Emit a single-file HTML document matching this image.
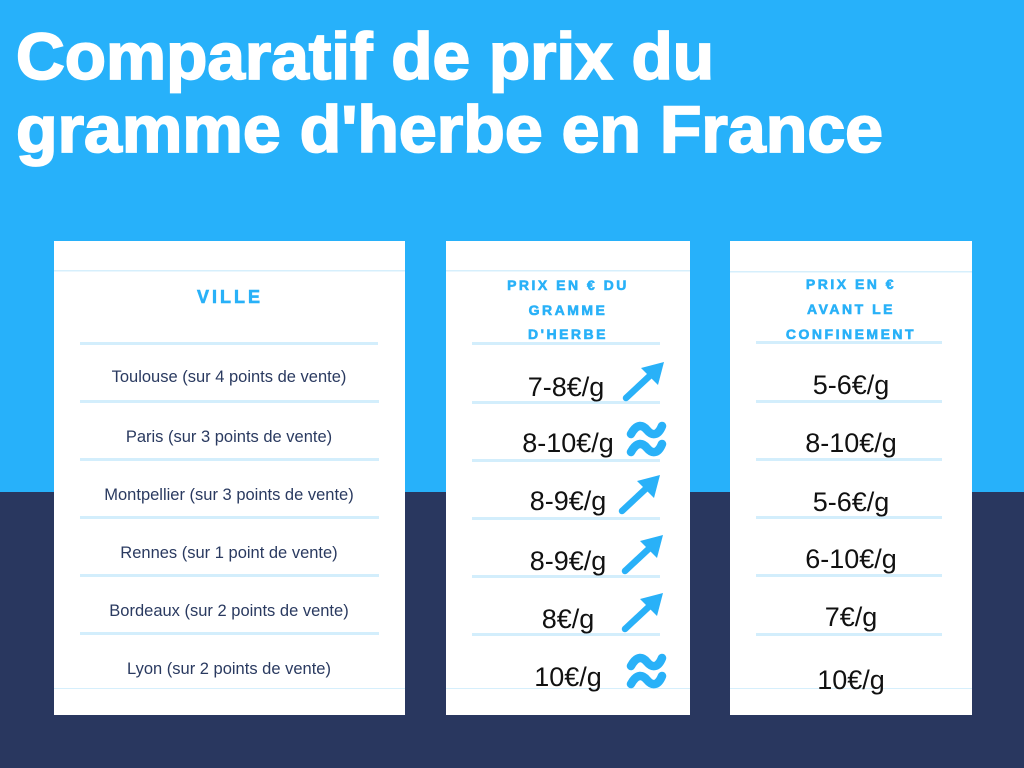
<!DOCTYPE html>
<html><head><meta charset="utf-8"><style>
html,body{margin:0;padding:0;width:1024px;height:768px;overflow:hidden}
svg{display:block}
</style></head><body>
<svg width="1024" height="768" xmlns="http://www.w3.org/2000/svg">
<defs>
<g id="arr"><line x1="0" y1="0" x2="30" y2="-28" stroke="#29b1f8" stroke-width="6.5" stroke-linecap="round"/><polygon points="38,-36 15,-30 32,-13" fill="#29b1f8"/></g>
<g id="apx"><path d="M3,12 C9,1 15,3 19,8 C24,14 30,14 34,4" fill="none" stroke="#29b1f8" stroke-width="8.5" stroke-linecap="round"/><path d="M3,30 C9,19 15,21 19,26 C24,32 30,32 34,22" fill="none" stroke="#29b1f8" stroke-width="8.5" stroke-linecap="round"/></g>
</defs>
<rect width="1024" height="492" fill="#27b1fa"/>
<rect y="492" width="1024" height="276" fill="#29375f"/>
<g font-family="Liberation Sans, sans-serif" font-weight="bold" fill="#fff" stroke="#fff" stroke-width="1.8" font-size="66">
<text x="16" y="79" textLength="698" lengthAdjust="spacingAndGlyphs">Comparatif de prix du</text>
<text x="16" y="152" textLength="867" lengthAdjust="spacingAndGlyphs">gramme d'herbe en France</text>
</g>
<rect x="54" y="241" width="351" height="474" fill="#fff"/>
<rect x="446" y="241" width="244" height="474" fill="#fff"/>
<rect x="730" y="241" width="242" height="474" fill="#fff"/>
<g fill="#d6effc">
<rect x="54" y="270" width="351" height="1.5"/><rect x="446" y="270" width="244" height="1.5"/><rect x="730" y="271" width="242" height="1.5"/>
<rect x="54" y="688" width="351" height="1"/><rect x="446" y="688" width="244" height="1"/><rect x="730" y="688" width="242" height="1"/>
</g>
<g fill="#d3eefc">
<rect x="80" y="342" width="298" height="3"/><rect x="80" y="400" width="299" height="3"/><rect x="80" y="458" width="299" height="3"/><rect x="80" y="516" width="299" height="3"/><rect x="80" y="574" width="299" height="3"/><rect x="80" y="632" width="299" height="3"/>
<rect x="472" y="342" width="188" height="3"/><rect x="472" y="401" width="188" height="3"/><rect x="472" y="459" width="188" height="3"/><rect x="472" y="517" width="188" height="3"/><rect x="472" y="575" width="188" height="3"/><rect x="472" y="633" width="188" height="3"/>
<rect x="756" y="341" width="186" height="3"/><rect x="756" y="400" width="186" height="3"/><rect x="756" y="458" width="186" height="3"/><rect x="756" y="516" width="186" height="3"/><rect x="756" y="574" width="186" height="3"/><rect x="756" y="633" width="186" height="3"/>
</g>
<g font-family="Liberation Sans, sans-serif" font-weight="bold" fill="#29b1f8" stroke="#29b1f8" stroke-width="0.6" text-anchor="middle">
<text x="230" y="303" font-size="18" letter-spacing="3">VILLE</text>
<text x="568" y="290" font-size="14" letter-spacing="2.5">PRIX EN € DU</text>
<text x="568" y="315" font-size="14" letter-spacing="2.5">GRAMME</text>
<text x="568" y="339" font-size="14" letter-spacing="2.5">D'HERBE</text>
<text x="851" y="289" font-size="14" letter-spacing="2.5">PRIX EN €</text>
<text x="851" y="314" font-size="14" letter-spacing="2.5">AVANT LE</text>
<text x="851" y="339" font-size="14" letter-spacing="2.5">CONFINEMENT</text>
</g>
<g font-family="Liberation Sans, sans-serif" fill="#2a3a60" font-size="16.5" text-anchor="middle">
<text x="229" y="382">Toulouse (sur 4 points de vente)</text>
<text x="229" y="442">Paris (sur 3 points de vente)</text>
<text x="229" y="500">Montpellier (sur 3 points de vente)</text>
<text x="229" y="558">Rennes (sur 1 point de vente)</text>
<text x="229" y="616">Bordeaux (sur 2 points de vente)</text>
<text x="229" y="674">Lyon (sur 2 points de vente)</text>
</g>
<g font-family="Liberation Sans, sans-serif" fill="#111" font-size="27" text-anchor="middle">
<text x="566" y="396">7-8€/g</text>
<text x="568" y="452">8-10€/g</text>
<text x="568" y="510">8-9€/g</text>
<text x="568" y="570">8-9€/g</text>
<text x="568" y="628">8€/g</text>
<text x="568" y="686">10€/g</text>
<text x="851" y="394">5-6€/g</text>
<text x="851" y="452">8-10€/g</text>
<text x="851" y="511">5-6€/g</text>
<text x="851" y="568">6-10€/g</text>
<text x="851" y="626">7€/g</text>
<text x="851" y="689">10€/g</text>
</g>
<use href="#arr" x="626" y="398"/>
<use href="#arr" x="622" y="511"/>
<use href="#arr" x="625" y="571"/>
<use href="#arr" x="625" y="629"/>
<use href="#apx" x="628" y="422"/>
<use href="#apx" x="628" y="654"/>
</svg>
</body></html>
